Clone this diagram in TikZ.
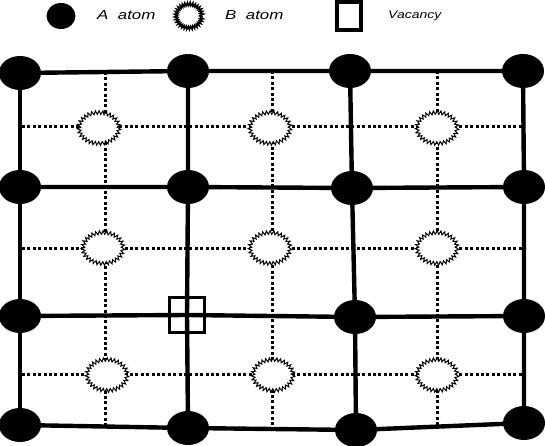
\documentclass[tikz,border=0pt]{standalone}
\usepackage{fontspec}
\setmainfont{Liberation Sans}
\usetikzlibrary{shapes.geometric,decorations.pathmorphing,backgrounds}
\begin{document}
\begin{tikzpicture}[x=1pt,y=-1pt,
  aatom/.style={ellipse,fill=black,inner sep=0pt,minimum width=42pt,minimum height=34pt},
  batom/.style={ellipse,draw=black,fill=white,line width=1pt,inner sep=0pt,minimum width=40pt,minimum height=31pt,
     decorate,decoration={zigzag,segment length=3.6pt,amplitude=1.8pt}},
  solidline/.style={line width=4.4pt},
  dotline/.style={line width=3pt,dash pattern=on 3pt off 2.4pt},
  vacbox/.style={draw=black,line width=3pt,minimum size=35pt,inner sep=0pt},
  legtext/.style={anchor=west,inner sep=0pt,font=\itshape\fontsize{13}{13}\selectfont}
  ]
\useasboundingbox (0,0) rectangle (545,446);
% legend
\node[aatom,minimum width=29pt,minimum height=26pt] (la) at (61,16) {};
\node[legtext] (lat) at (97,15) {\scalebox{1.3}[1]{A\ \ atom}};
\node[batom,minimum width=26pt,minimum height=24pt,line width=1.5pt,decoration={zigzag,segment length=2.4pt,amplitude=1.6pt}] (lb) at (189,16) {};
\node[legtext] (lbt) at (225,15) {\scalebox{1.3}[1]{B\ \ atom}};
\node[draw=black,line width=4pt,minimum width=24pt,minimum height=28pt,inner sep=0pt] (lv) at (349,16) {};
\node[legtext,font=\itshape\fontsize{11}{11}\selectfont] (lvt) at (388,16) {\scalebox{1.27}[1]{Vacancy}};
% A atoms
\node[aatom] (a11) at (20,73) {};
\node[aatom] (a12) at (188,71) {};
\node[aatom] (a13) at (350,71) {};
\node[aatom] (a14) at (523,71) {};
\node[aatom] (a21) at (20,187) {};
\node[aatom] (a22) at (188,187) {};
\node[aatom] (a23) at (352,188) {};
\node[aatom] (a24) at (524,187) {};
\node[aatom] (a31) at (20,316) {};
\node[vacbox] (v) at (187,315) {};
\node[aatom] (a33) at (355,317) {};
\node[aatom] (a34) at (524,316) {};
\node[aatom] (a41) at (20,425) {};
\node[aatom] (a42) at (188,428) {};
\node[aatom] (a43) at (356,430) {};
\node[aatom] (a44) at (524,423) {};
% coordinates for dotted lines
\coordinate (h1l) at (22,127); \coordinate (h1r) at (524,127);
\coordinate (h2l) at (22,248); \coordinate (h2r) at (524,248);
\coordinate (h3l) at (22,374); \coordinate (h3r) at (524,374);
\coordinate (v1t) at (105,72); \coordinate (v1b) at (105,428);
\coordinate (v2t) at (272,71); \coordinate (v2b) at (272,429);
\coordinate (v3t) at (437,71); \coordinate (v3b) at (437,426);
% B atoms
\node[batom] (b11) at (99,128) {};
\node[batom] (b12) at (270,128) {};
\node[batom] (b13) at (437,128) {};
\node[batom] (b21) at (103,248) {};
\node[batom] (b22) at (270,248) {};
\node[batom] (b23) at (437,248) {};
\node[batom] (b31) at (107,375) {};
\node[batom] (b32) at (273,375) {};
\node[batom] (b33) at (437,375) {};
\begin{pgfonlayer}{background}
  \draw[dotline] (h1l) -- (h1r);
  \draw[dotline] (h2l) -- (h2r);
  \draw[dotline] (h3l) -- (h3r);
  \draw[dotline] (v1t) -- (v1b);
  \draw[dotline] (v2t) -- (v2b);
  \draw[dotline] (v3t) -- (v3b);
  % horizontal solid
  \draw[solidline] (a11.center) -- (a12.center) -- (a13.center) -- (a14.center);
  \draw[solidline] (a21.center) -- (a22.center) -- (a23.center) -- (a24.center);
  \draw[solidline] (a31.center) -- (v.center) -- (a33.center) -- (a34.center);
  \draw[solidline] (a41.center) -- (a42.center) -- (a43.center) -- (a44.center);
  % vertical solid
  \draw[solidline] (a11.center) -- (a21.center) -- (a31.center) -- (a41.center);
  \draw[solidline] (a12.center) -- (a22.center) -- (v.center) -- (a42.center);
  \draw[solidline] (a13.center) -- (a23.center) -- (a33.center) -- (a43.center);
  \draw[solidline] (a14.center) -- (a24.center) -- (a34.center) -- (a44.center);
\end{pgfonlayer}
\end{tikzpicture}
\end{document}
